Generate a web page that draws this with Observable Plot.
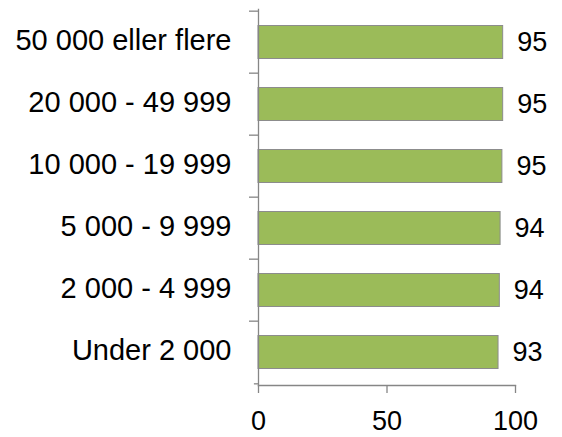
<!DOCTYPE html>
<html><head><meta charset="utf-8">
<script src="https://cdn.jsdelivr.net/npm/d3@7"></script>
<script src="https://cdn.jsdelivr.net/npm/@observablehq/plot@0.6"></script>
<style>
html,body{margin:0;padding:0;background:#fff;}
svg{display:block;}
</style>
</head><body>
<div id="chart"></div>
<script>
const categories = ["50 000 eller flere", "20 000 - 49 999", "10 000 - 19 999", "5 000 - 9 999", "2 000 - 4 999", "Under 2 000"];
const values = [95.2, 95.2, 94.9, 94.2, 93.9, 93.4];
const valueLabels = ["95", "95", "95", "94", "94", "93"];
const xTicks = [0, 50, 100];

const data = categories.map((c, i) => ({cat: c, v: values[i], label: valueLabels[i]}));
const bandH = (385 - 9) / categories.length;
const axisColor = "#868686";
const font = "Liberation Sans, Arial, sans-serif";

const chart = Plot.plot({
  width: 562,
  height: 437,
  marginLeft: 258,
  marginRight: 47,
  marginTop: 9,
  marginBottom: 52,
  style: {fontFamily: font, color: "#000", background: "#fff", overflow: "visible"},
  x: {domain: [0, 100], ticks: xTicks},
  y: {domain: categories, padding: 0},
  marks: [
    Plot.barX(data, {y: "cat", x: "v", fill: "#9BBB59", stroke: "#8C8C8C", strokeWidth: 1, insetTop: 14.5, insetBottom: 14.5}),
    Plot.text(data, {y: "cat", x: "v", text: "label", textAnchor: "start", dx: 14, fontSize: 27, fill: "#000"}),
    Plot.frame({anchor: "left", stroke: axisColor, strokeWidth: 1.3}),
    Plot.frame({anchor: "bottom", stroke: axisColor, strokeWidth: 1.3}),
    Plot.ruleY(categories, {y: d => d, x1: -3.5, x2: 0, dy: -bandH / 2, stroke: axisColor, strokeWidth: 1.3, clip: false}),
    Plot.ruleY([categories[categories.length - 1]], {y: d => d, x1: -1.6, x2: 0, dy: bandH / 2, stroke: axisColor, strokeWidth: 1.3, clip: false}),
    Plot.axisX({ticks: xTicks, tickSize: 8, tickPadding: 17, fontSize: 27, stroke: axisColor, strokeWidth: 1.3, fill: "#000", label: null, tickFormat: d => String(d)}),
    Plot.axisY({tickSize: 0, tickPadding: 27, fontSize: 29, dy: -2, fill: "#000", label: null})
  ]
});
document.getElementById("chart").appendChild(chart);
</script>
</body></html>
